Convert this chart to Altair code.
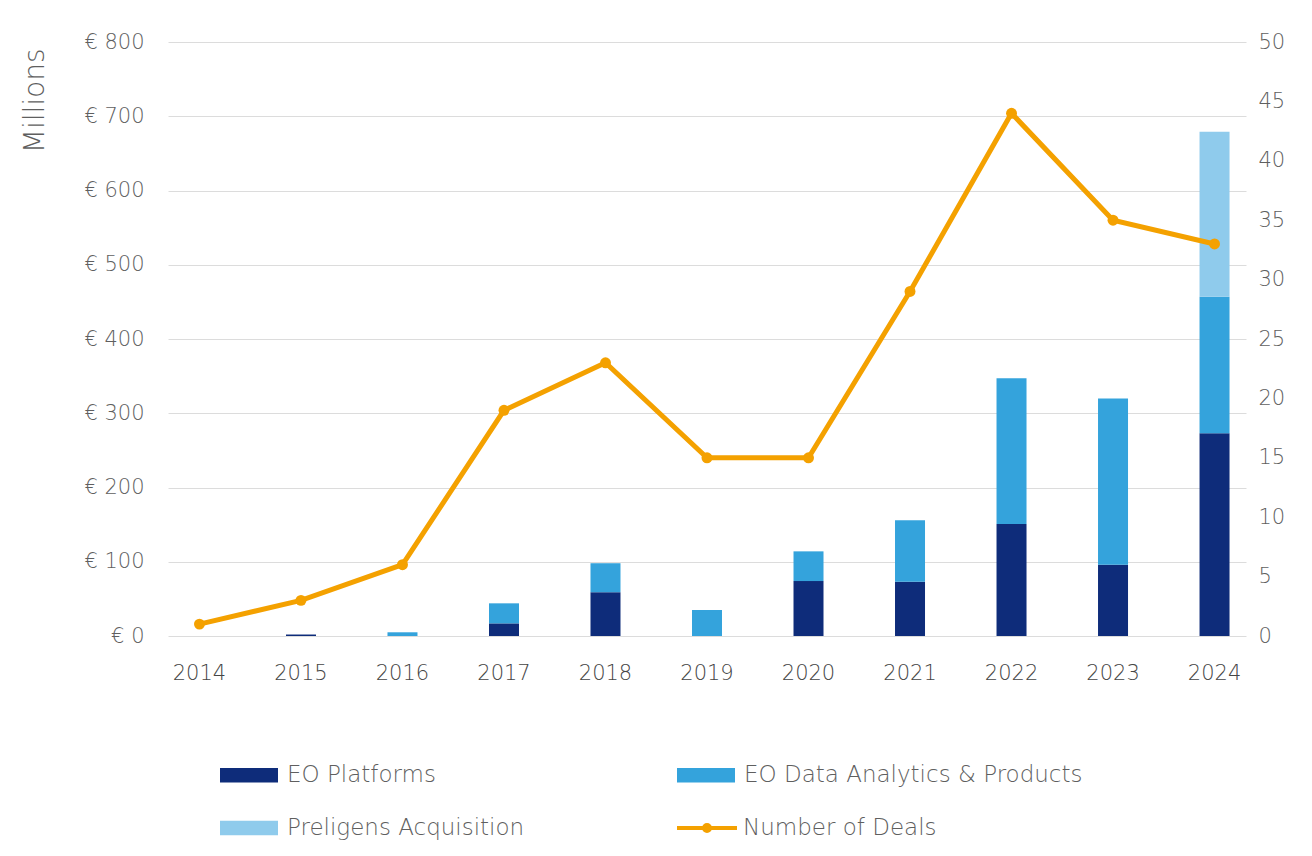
import altair as alt
import pandas as pd

years = ["2014", "2015", "2016", "2017", "2018", "2019", "2020", "2021", "2022", "2023", "2024"]
eo_platforms = [0, 2, 0, 17, 59, 0, 74, 73, 151, 96, 273]
eo_analytics = [0, 0, 5, 27, 39, 35, 40, 83, 196, 224, 184]
preligens = [0, 0, 0, 0, 0, 0, 0, 0, 0, 0, 222]
deals = [1, 3, 6, 19, 23, 15, 15, 29, 44, 35, 33]

series_names = ["EO Platforms", "EO Data Analytics & Products", "Preligens Acquisition"]
series_colors = ["#0E2C7A", "#34A3DC", "#8FCBEC"]
line_name = "Number of Deals"
line_color = "#F4A100"

rows = []
for i, y in enumerate(years):
    for k, (name, vals) in enumerate(zip(series_names, [eo_platforms, eo_analytics, preligens])):
        rows.append({"year": y, "series": name, "value": vals[i], "order": k})
bars_df = pd.DataFrame(rows)
line_df = pd.DataFrame({"year": years, "deals": deals, "series": [line_name] * len(years)})

FONT = "DejaVu Sans"
LABEL_W = 200
TXT = "#5f5f5f"

x_enc = alt.X("year:N", sort=years, title=None,
              scale=alt.Scale(paddingInner=0.69, paddingOuter=0.155),
              axis=alt.Axis(labelAngle=0, labelFontSize=21, labelColor="#454545",
                            labelFontWeight=LABEL_W, labelPadding=26,
                            ticks=False, domain=False, grid=False))

rect_path = "M-2,-0.5L2,-0.5L2,0.5L-2,0.5Z"
line_path = "M-2,0L2,0M0.2,0A0.2,0.2 0 1 1 -0.2,0A0.2,0.2 0 1 1 0.2,0"

bars = alt.Chart(bars_df).mark_bar(size=30).encode(
    x=x_enc,
    y=alt.Y("sum(value):Q", title="Millions",
            scale=alt.Scale(domain=[0, 800]),
            axis=alt.Axis(values=list(range(0, 801, 100)), labelExpr="'€ ' + datum.value",
                          labelFontSize=21, labelColor=TXT, labelFontWeight=LABEL_W,
                          labelPadding=24, ticks=False, domain=False, grid=True,
                          gridColor="#DCDCDC",
                          titleFontSize=28, titleColor=TXT, titleFontWeight=LABEL_W,
                          titleAngle=-90, titleX=-133, titleY=6, titleAlign="right",
                          titleBaseline="middle")),
    fill=alt.Fill("series:N", sort=series_names,
                  scale=alt.Scale(domain=series_names, range=series_colors),
                  legend=alt.Legend(title=None, orient="none", legendX=66.5, legendY=718.5,
                                    direction="horizontal", columns=2,
                                    columnPadding=152, rowPadding=26,
                                    symbolType=rect_path, symbolSize=841,
                                    symbolStrokeWidth=0, labelFontSize=23,
                                    labelFontWeight=LABEL_W, labelLimit=500,
                                    labelColor=TXT, labelOffset=23.5)),
    order=alt.Order("order:Q"),
)

line = alt.Chart(line_df).mark_line(strokeWidth=5).encode(
    x=alt.X("year:N", sort=years),
    y=alt.Y("deals:Q", title=None, scale=alt.Scale(domain=[0, 50]),
            axis=alt.Axis(orient="right", values=list(range(0, 51, 5)),
                          labelFontSize=21, labelColor=TXT, labelFontWeight=LABEL_W,
                          labelPadding=12, ticks=False, domain=False, grid=False)),
    stroke=alt.Stroke("series:N", scale=alt.Scale(domain=[line_name], range=[line_color]),
                      legend=alt.Legend(title=None, orient="none", legendX=522, legendY=769,
                                        symbolType=line_path, symbolSize=900,
                                        symbolStrokeWidth=4, symbolFillColor=line_color,
                                        labelFontSize=23, labelFontWeight=LABEL_W,
                                        labelLimit=500, labelColor=TXT, labelOffset=19)),
)

points = alt.Chart(line_df).mark_circle(size=120, opacity=1, color=line_color).encode(
    x=alt.X("year:N", sort=years),
    y=alt.Y("deals:Q", scale=alt.Scale(domain=[0, 50])),
)

right = alt.layer(line, points)

chart = alt.layer(bars, right).resolve_scale(y="independent").properties(
    width=1078, height=594,
    autosize=alt.AutoSizeParams(type="none"),
    padding={"left": 160, "top": 34, "right": 58, "bottom": 212},
    background="white",
).configure(font=FONT).configure_view(stroke=None)

chart.save("out.html", embed_options={"renderer": "svg", "actions": False})
